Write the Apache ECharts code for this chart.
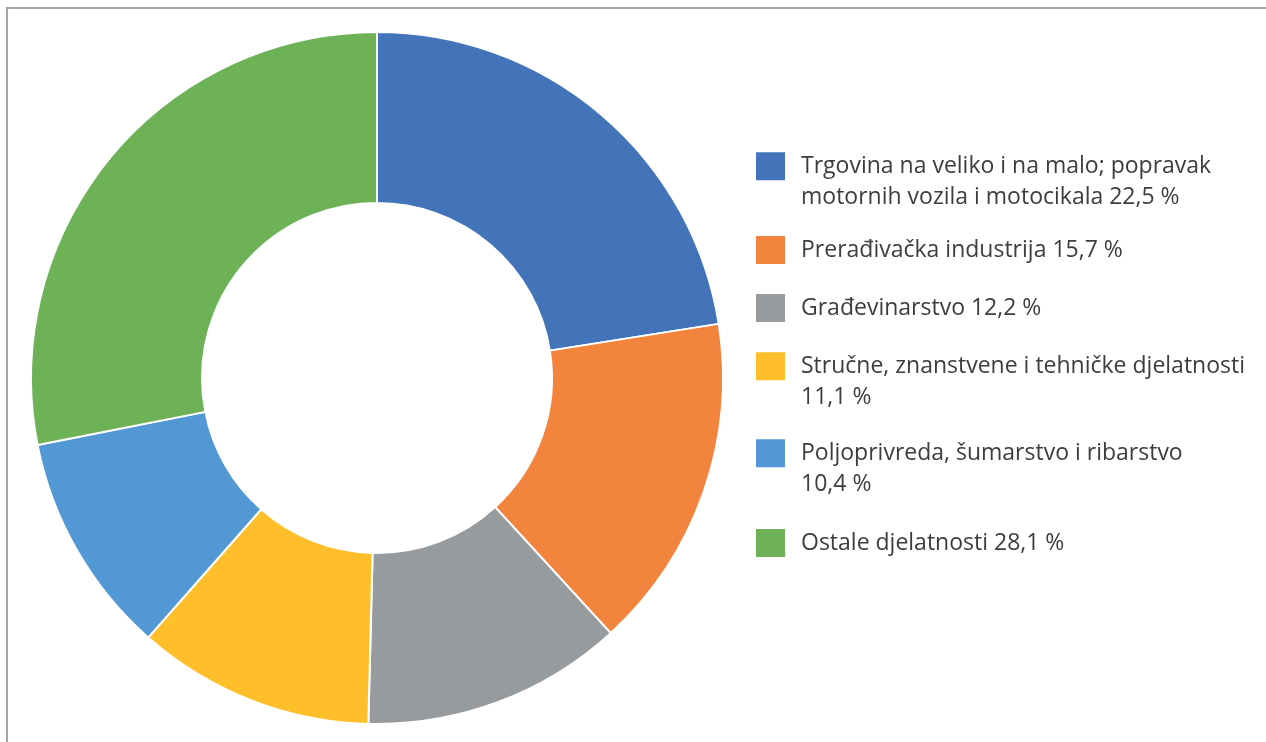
<!DOCTYPE html>
<html>
<head>
<meta charset="utf-8">
<script src="https://cdn.jsdelivr.net/npm/echarts@6/dist/echarts.min.js"></script>
<style>
  html, body { margin: 0; padding: 0; background: #fff; }
  #frame {
    position: absolute; left: 6px; top: 7px; width: 1262px; height: 740px;
    border-left: 2px solid #a8a29c; border-top: 2px solid #a8a29c;
  }
  #chart { position: absolute; left: 0; top: 0; width: 1266px; height: 742px; }
</style>
</head>
<body>
<div id="frame"></div>
<div id="chart"></div>
<script>
// djelatnosti (legend text, '\n' marks where the line wraps)
const categories = [
  'Trgovina na veliko i na malo; popravak\nmotornih vozila i motocikala',
  'Prerađivačka industrija',
  'Građevinarstvo',
  'Stručne, znanstvene i tehničke djelatnosti\n',
  'Poljoprivreda, šumarstvo i ribarstvo\n',
  'Ostale djelatnosti'
]
const shares = [22.5, 15.7, 12.2, 11.1, 10.4, 28.1]
const colors = ['#4374b9', '#f3843e', '#989b9e', '#febf2a', '#5198d4', '#6eb257']

// legend placement, one legend block per item
const legendTops = [119, 234, 292, 319, 406, 527]

const chart = echarts.init(document.getElementById('chart'))

const fmt = (name) => {
  const i = categories.indexOf(name)
  const pct = shares[i].toFixed(1).replace('.', ',') + ' %'
  const txt = name.endsWith('\n') ? name + pct : name + ' ' + pct
  // empty first line so the square sits next to the first text line
  return txt.indexOf('\n') >= 0 ? '\n' + txt : txt
}

const legends = categories.map((c, i) => ({
  data: [c],
  left: 754,
  top: legendTops[i],
  padding: 0,
  icon: 'rect',
  itemWidth: 31,
  itemHeight: 30,
  selectedMode: false,
  formatter: fmt,
  textStyle: {
    fontFamily: 'Open Sans',
    fontSize: 23,
    color: '#3d3d3d',
    lineHeight: 31.5,
    padding: [0, 0, 0, 10]
  }
}))

chart.setOption({
  animation: false,
  legend: legends,
  series: [{
    type: 'pie',
    center: [377, 378],
    radius: [175, 346],
    startAngle: 90,
    clockwise: true,
    label: { show: false },
    labelLine: { show: false },
    emphasis: { disabled: true },
    itemStyle: { borderColor: '#fff', borderWidth: 2 },
    data: categories.map((c, i) => ({
      name: c,
      value: shares[i],
      itemStyle: { color: colors[i] }
    }))
  }]
})
</script>
</body>
</html>
